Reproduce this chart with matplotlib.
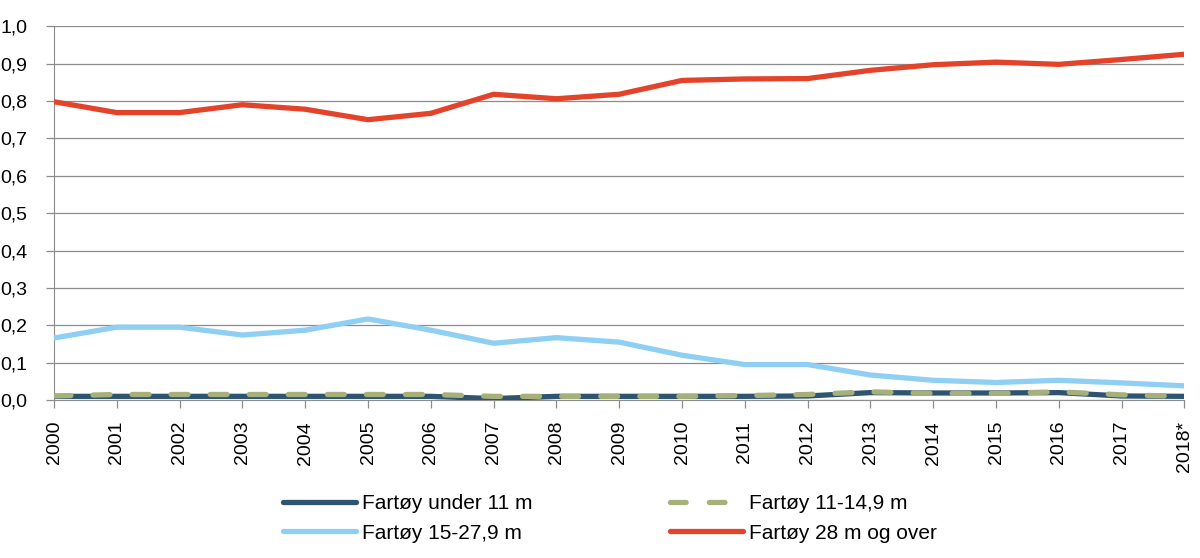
import matplotlib
matplotlib.use("Agg")
import matplotlib.pyplot as plt
from matplotlib.ticker import FuncFormatter

plt.rcParams['font.family'] = ['Liberation Sans', 'DejaVu Sans']

years = ["2000", "2001", "2002", "2003", "2004", "2005", "2006", "2007", "2008", "2009",
         "2010", "2011", "2012", "2013", "2014", "2015", "2016", "2017", "2018*"]

under_11 = [0.010, 0.010, 0.010, 0.010, 0.010, 0.010, 0.010, 0.004, 0.010, 0.010,
            0.010, 0.010, 0.011, 0.020, 0.019, 0.019, 0.020, 0.011, 0.010]
m11_149 = [0.011, 0.015, 0.015, 0.015, 0.015, 0.015, 0.015, 0.010, 0.010, 0.010,
           0.010, 0.012, 0.015, 0.022, 0.018, 0.018, 0.022, 0.014, 0.010]
m15_279 = [0.166, 0.195, 0.195, 0.174, 0.187, 0.217, 0.187, 0.152, 0.167, 0.155,
           0.120, 0.095, 0.095, 0.067, 0.053, 0.047, 0.053, 0.046, 0.038]
m28_over = [0.798, 0.769, 0.769, 0.790, 0.778, 0.750, 0.767, 0.818, 0.806, 0.818,
            0.855, 0.859, 0.860, 0.882, 0.897, 0.904, 0.898, 0.911, 0.925]

labels = ["Fartøy under 11 m", "Fartøy 11-14,9 m", "Fartøy 15-27,9 m", "Fartøy 28 m og over"]

fig = plt.figure(figsize=(12, 5.58), dpi=100)
ax = fig.add_axes([0.045, 0.283, 0.942, 0.670])

x = list(range(len(years)))
l1, = ax.plot(x, under_11, color="#2E5470", lw=3.8, solid_capstyle="round", zorder=3)
l2, = ax.plot(x, m11_149, color="#A5B07A", lw=3.8, dashes=(3.2, 4.2),
              dash_capstyle="round", zorder=4)
l3, = ax.plot(x, m15_279, color="#8ECFF3", lw=3.8, solid_capstyle="round", zorder=3)
l4, = ax.plot(x, m28_over, color="#E4432B", lw=3.8, solid_capstyle="round", zorder=3)

ax.set_xlim(0, len(years) - 1)
ax.set_ylim(0, 1.0)
ax.set_yticks([i / 10 for i in range(11)])
ax.yaxis.set_major_formatter(FuncFormatter(lambda v, p: f"{v:.1f}".replace(".", ",")))
ax.set_xticks(x)
ax.set_xticklabels(years, rotation=90)

ax.grid(axis="y", color="#8c8c8c", lw=0.9)
ax.set_axisbelow(True)
for s in ["top", "right"]:
    ax.spines[s].set_visible(False)
ax.spines["left"].set_color("#8c8c8c")
ax.spines["bottom"].set_color("#8c8c8c")
ax.tick_params(axis="y", length=6, color="#8c8c8c", width=0.9, labelsize=14, pad=13)
ax.tick_params(axis="x", length=6, color="#8c8c8c", width=0.9, labelsize=14, pad=9)

leg = fig.legend([l1, l3, l2, l4], [labels[0], labels[2], labels[1], labels[3]],
                 ncol=2, loc="lower left", bbox_to_anchor=(0.22, -0.006),
                 frameon=False, fontsize=15, handlelength=3.5, handletextpad=0.3,
                 columnspacing=6.6, labelspacing=0.5)
for h in leg.get_lines():
    if h.get_linestyle() not in ("-",):
        h.set_dashes((2.96, 4.4))

fig.savefig("out.png", dpi=100)
